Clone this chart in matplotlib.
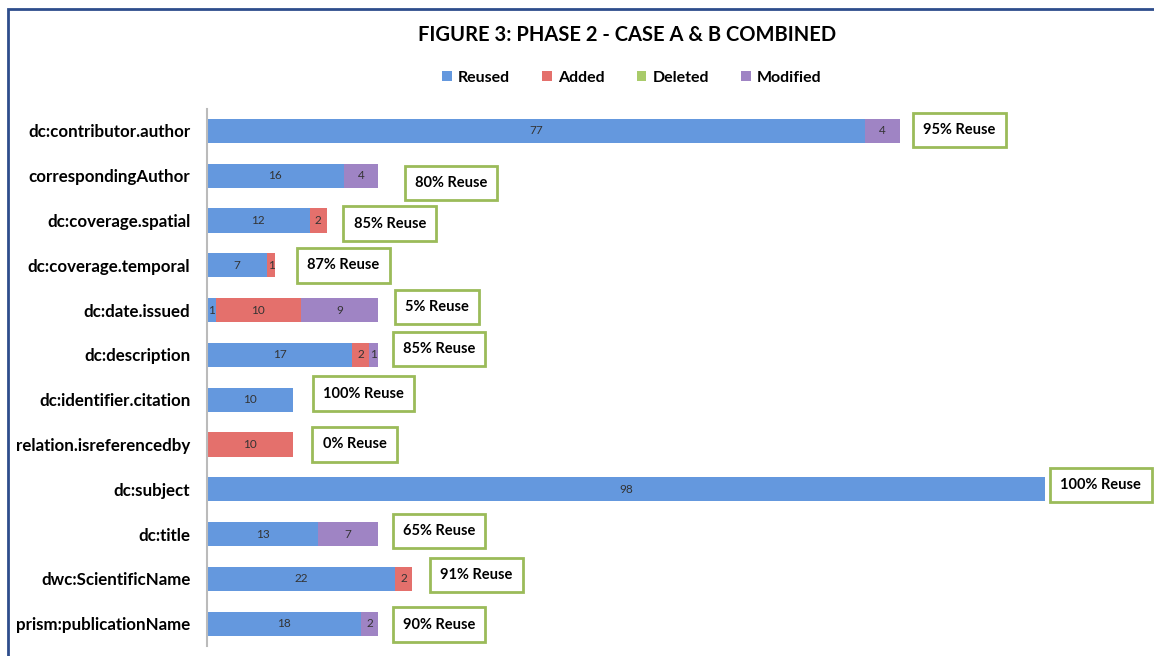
import numpy as np
import matplotlib.pyplot as plt
from matplotlib.patches import Rectangle

fields = ["dc:contributor.author", "correspondingAuthor", "dc:coverage.spatial",
          "dc:coverage.temporal", "dc:date.issued", "dc:description",
          "dc:identifier.citation", "relation.isreferencedby", "dc:subject",
          "dc:title", "dwc:ScientificName", "prism:publicationName"]
reused = [77, 16, 12, 7, 1, 17, 10, 0, 98, 13, 22, 18]
added = [0, 0, 2, 1, 10, 2, 0, 10, 0, 0, 2, 0]
deleted = [0, 0, 0, 0, 0, 0, 0, 0, 0, 0, 0, 0]
modified = [4, 4, 0, 0, 9, 1, 0, 0, 0, 7, 0, 2]
reuse_pct = [95, 80, 85, 87, 5, 85, 100, 0, 100, 65, 91, 90]

series = [("Reused", reused, "#6498DE"), ("Added", added, "#E4706C"),
          ("Deleted", deleted, "#A9CB6A"), ("Modified", modified, "#9F84C4")]

# where the callout boxes sit, relative to the bar end (pixels, dy downwards)
box_dx = [60, 73, 63, 68, 59, 61, 71, 62, 56, 61, 64, 61]
box_dy = [-1, 7, 3, 0, -3, -6, -6, 0, -4, -3, -4, 1]

plt.rcParams['font.family'] = ['Lato', 'DejaVu Sans']

fig = plt.figure(figsize=(11.54, 6.56), dpi=100)
ax = fig.add_axes([207 / 1154, 10 / 656, 1 - 207 / 1154, 1 - 10 / 656 - 108.6 / 656])

y = np.arange(len(fields))
left = np.zeros(len(fields))
for name, vals, col in series:
    vals = np.array(vals)
    ax.barh(y, vals, left=left, height=0.54, color=col, label=name)
    for yi, (l, v) in enumerate(zip(left, vals)):
        if v > 0:
            ax.text(l + v / 2, yi, str(v), ha='center', va='center',
                    fontsize=8.5, color='#333333')
    left = left + vals

for yi, tot in enumerate(left):
    ax.annotate(f"{reuse_pct[yi]}% Reuse", xy=(tot, yi),
                xytext=(box_dx[yi], -box_dy[yi]), textcoords='offset pixels',
                ha='center', va='center', fontsize=10.5, fontweight='bold',
                bbox=dict(boxstyle='square,pad=0.7', fc='white',
                          ec='#9BBB59', lw=2))

ax.set_xlim(0, (1154 - 207) / 8.55)
ax.set_ylim(11.5, -0.5)
ax.set_yticks(y)
ax.set_yticklabels(fields, fontsize=12.2, fontweight='bold')
ax.tick_params(axis='y', length=0, pad=12)
ax.set_xticks([])
for s in ['top', 'right', 'bottom']:
    ax.spines[s].set_visible(False)
ax.spines['left'].set_color('#BBBBBB')
ax.spines['left'].set_linewidth(1.5)

fig.text(627 / 1154, 1 - 35 / 656, "FIGURE 3: PHASE 2 - CASE A & B COMBINED",
         ha='center', va='center', fontsize=14.5, fontweight='bold')
fig.legend(loc='center', bbox_to_anchor=(632 / 1154, 1 - 78 / 656), ncol=4,
           frameon=False, handlelength=0.6, handleheight=0.6,
           columnspacing=2.0, handletextpad=0.4,
           prop={'weight': 'bold', 'size': 11.5})

fig.patches.append(Rectangle((8 / 1154, -0.05), 1.2, 1.05 - 9 / 656,
                             transform=fig.transFigure, fill=False,
                             ec='#2E4D8C', lw=2))

fig.savefig("out.png", dpi=100)
